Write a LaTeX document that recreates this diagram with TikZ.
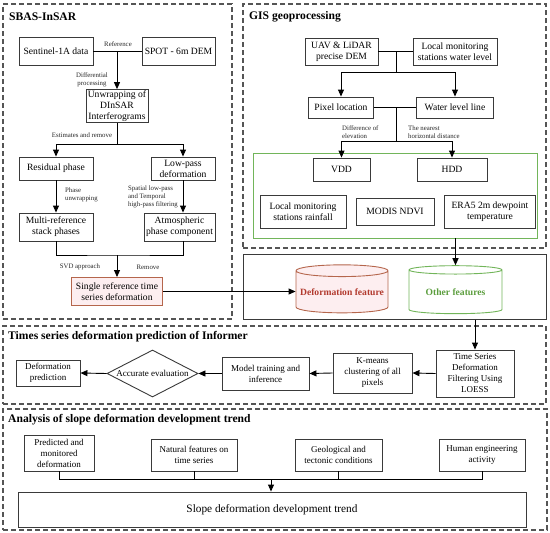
\documentclass[tikz,border=0pt]{standalone}
\usepackage{fontspec}
\setmainfont{Liberation Serif}
\usepackage{xcolor}
\usepackage{tikz}
\usetikzlibrary{arrows.meta,positioning,shapes.geometric}
\definecolor{frame}{HTML}{555555}
\definecolor{boxline}{HTML}{3A3A3A}
\definecolor{rustline}{HTML}{B5664C}
\definecolor{rusttext}{HTML}{B23A2E}
\definecolor{rosefill}{HTML}{FDEEF0}
\definecolor{leafline}{HTML}{72B55A}
\definecolor{leaftext}{HTML}{5C9E3E}
\tikzset{
  fbox/.style={draw=boxline,fill=white,line width=0.9pt,align=center,inner sep=1pt,font=\fontsize{9.6}{11}\selectfont},
  fsmall/.style={fbox,font=\fontsize{9}{11}\selectfont},
  fdash/.style={draw=frame,line width=1.1pt,dash pattern=on 5pt off 3pt,inner sep=0pt},
  fgreen/.style={draw=leafline,line width=0.9pt,inner sep=0pt},
  fsolid/.style={draw=boxline,line width=1pt,inner sep=0pt},
  flabel/.style={font=\fontsize{6.8}{8.3}\selectfont,inner sep=0pt,text=black!85},
  ftitle/.style={font=\bfseries\fontsize{11.6}{13}\selectfont,anchor=west,inner sep=0pt},
  fdb/.style={cylinder,shape border rotate=90,aspect=0.14,line width=0.9pt,inner sep=0pt,font=\bfseries\fontsize{9.6}{11}\selectfont},
  farr/.style={-{Triangle[length=7pt,width=6pt]},line width=0.9pt,draw=black},
  fline/.style={line width=0.9pt,draw=black}
}

\begin{document}
\begin{tikzpicture}[x=1pt,y=-1pt]
  \useasboundingbox (0,0) rectangle (550,533);
  % frames of the four stages
  \node[fdash,minimum width=229pt,minimum height=315pt] (sbas) at (117.5,161.5) {};
  \node[fdash,minimum width=303pt,minimum height=244pt] (gis) at (394.5,126) {};
  \node[fgreen,minimum width=284pt,minimum height=85pt] (green) at (395,195.5) {};
  \node[fsolid,minimum width=303pt,minimum height=65pt] (feat) at (394.5,286.5) {};
  \node[fdash,minimum width=543pt,minimum height=78pt] (inf) at (274.5,365) {};
  \node[fdash,minimum width=544pt,minimum height=121pt] (ana) at (275,469.5) {};
  \node[ftitle] (sbastitle) at (9,17) {SBAS-InSAR};
  \node[ftitle] (gistitle) at (249,17) {GIS geoprocessing};
  \node[ftitle] (inftitle) at (8,337) {Times series deformation prediction of Informer};
  \node[ftitle] (anatitle) at (8,420) {Analysis of slope deformation development trend};

  % SBAS-InSAR
  \node[fbox,minimum width=74pt,minimum height=28pt] (sent) at (56,51) {Sentinel-1A data};
  \node[fbox,minimum width=73pt,minimum height=28pt] (spot) at (178.5,51) {SPOT - 6m DEM};
  \node[fbox,minimum width=62pt,minimum height=32pt] (unwrap) at (117,106) {Unwrapping of\\DInSAR\\Interferograms};
  \node[fbox,minimum width=74pt,minimum height=23pt] (resid) at (56,168.5) {Residual phase};
  \node[fbox,minimum width=64pt,minimum height=23pt] (lowpass) at (183,168.5) {Low-pass\\deformation};
  \node[fbox,minimum width=74pt,minimum height=28pt] (multi) at (56,227) {Multi-reference\\stack phases};
  \node[fbox,minimum width=71pt,minimum height=28pt] (atmo) at (179.5,227) {Atmospheric\\phase component};
  \node[fbox,draw=rustline,fill=rosefill,minimum width=91pt,minimum height=28pt] (single) at (117,291.5) {Single reference time\\series deformation};
  \coordinate (split) at (117,144);
  \coordinate (merge) at (117,255);
  \draw[fline] (sent.east) -- (spot.west);
  \draw[farr] (unwrap.north |- sent.east) -- (unwrap.north);
  \draw[fline] (unwrap.south) -- (split);
  \draw[farr] (split) -| (resid.north);
  \draw[farr] (split) -| (lowpass.north);
  \draw[farr] (resid.south) -- (multi.north);
  \draw[farr] (lowpass.south) -- (lowpass.south |- atmo.north);
  \draw[fline] (multi.south) |- (merge) -| (lowpass.south |- atmo.south);
  \draw[farr] (merge) -- (single.north);
  \node[flabel] (reflbl) at (118,44) {Reference};
  \node[flabel,align=center] (difflbl) at (92,80) {Differential\\processing};
  \node[flabel] (estlbl) at (82,135) {Estimates and remove};
  \node[flabel,align=left,anchor=west] (phaselbl) at (65,195) {Phase\\unwrapping};
  \node[flabel,align=left,anchor=west] (filtlbl) at (128,197) {Spatial low-pass\\and Temporal\\high-pass filtering};
  \node[flabel] (svdlbl) at (80,267) {SVD approach};
  \node[flabel] (remlbl) at (148,267) {Remove};

  % GIS geoprocessing
  \node[fbox,minimum width=73pt,minimum height=27pt] (uav) at (341.5,51.5) {UAV \& LiDAR\\precise DEM};
  \node[fbox,minimum width=84pt,minimum height=27pt] (localw) at (455,51.5) {Local monitoring\\stations water level};
  \node[fbox,minimum width=65pt,minimum height=21pt] (pixel) at (341,107.5) {Pixel location};
  \node[fbox,minimum width=77pt,minimum height=21pt] (water) at (455,107.5) {Water level line};
  \node[fbox,minimum width=57pt,minimum height=23pt] (vdd) at (341.5,169.5) {VDD};
  \node[fbox,minimum width=70pt,minimum height=23pt] (hdd) at (452,169.5) {HDD};
  \node[fbox,minimum width=86pt,minimum height=33pt] (rain) at (303,211.5) {Local monitoring\\stations rainfall};
  \node[fbox,minimum width=78pt,minimum height=27pt] (modis) at (395,211.5) {MODIS NDVI};
  \node[fbox,minimum width=91pt,minimum height=33pt] (era) at (490,211.5) {ERA5 2m dewpoint\\temperature};
  \coordinate (gsplit) at (396,72);
  \coordinate (gsplit2) at (396,141);
  \draw[fline] (uav.east) -- (localw.west);
  \draw[fline] (gsplit |- uav.east) -- (gsplit);
  \draw[farr] (gsplit) -| (pixel.north);
  \draw[farr] (gsplit) -| (water.north);
  \draw[fline] (pixel.east) -- (water.west);
  \draw[fline] (gsplit2 |- pixel.east) -- (gsplit2);
  \draw[farr] (gsplit2) -| (vdd.north);
  \draw[farr] (gsplit2) -| (hdd.north);
  \node[flabel,align=left,anchor=west] (elevlbl) at (342,132) {Difference of\\elevation};
  \node[flabel,align=left,anchor=west] (horlbl) at (408,132) {The nearest\\horizontal distance};

  % feature store
  \node[fdb,draw=rustline,fill=rosefill,text=rusttext,minimum width=92pt,minimum height=48pt] (deform) at (342,292) {Deformation feature};
  \node[fdb,draw=leafline,fill=white,text=leaftext,minimum width=93pt,minimum height=48pt] (other) at (455.5,292) {Other features};
  \draw[farr] (single.east) -- (single.east -| deform.west);
  \draw[farr] (green.south -| other.north) -- (other.north);

  % Informer prediction
  \node[fsmall,minimum width=78pt,minimum height=47pt] (ts) at (475,373.5) {Time Series\\Deformation\\Filtering Using\\LOESS};
  \node[fsmall,minimum width=79pt,minimum height=40pt] (km) at (372.5,373) {K-means\\clustering of all\\pixels};
  \node[fsmall,minimum width=87pt,minimum height=33pt] (model) at (265.5,373.5) {Model training and\\inference};
  \node[fsmall,diamond,aspect=1.94,inner sep=0pt,minimum width=91pt,minimum height=47pt] (eval) at (152.5,373.5) {Accurate evaluation};
  \node[fsmall,minimum width=64pt,minimum height=26pt] (pred) at (48,373) {Deformation\\prediction};
  \draw[farr] (feat.south -| ts.north) -- (ts.north);
  \draw[farr] (ts.west) -- (km.east);
  \draw[farr] (km.west) -- (model.east);
  \draw[farr] (model.west) -- (eval.east);
  \draw[farr] (eval.west) -- (pred.east);

  % slope trend analysis
  \node[fsmall,minimum width=70pt,minimum height=36pt] (p1) at (59,453) {Predicted and\\monitored\\deformation};
  \node[fsmall,minimum width=86pt,minimum height=32pt] (p2) at (194,455) {Natural features on\\time series};
  \node[fsmall,minimum width=87pt,minimum height=32pt] (p3) at (338.5,455) {Geological and\\tectonic conditions};
  \node[fsmall,minimum width=86pt,minimum height=32pt] (p4) at (482,455) {Human engineering\\activity};
  \node[fbox,font=\fontsize{11.3}{13}\selectfont,minimum width=508pt,minimum height=35pt] (trend) at (272,509.5) {Slope deformation development trend};
  \coordinate (gather) at (271,479);
  \draw[fline] (p1.south) |- (p4.south |- gather) -- (p4.south);
  \draw[fline] (p2.south) -- (p2.south |- gather);
  \draw[fline] (p3.south) -- (p3.south |- gather);
  \draw[farr] (gather) -- (gather |- trend.north);
\end{tikzpicture}
\end{document}
